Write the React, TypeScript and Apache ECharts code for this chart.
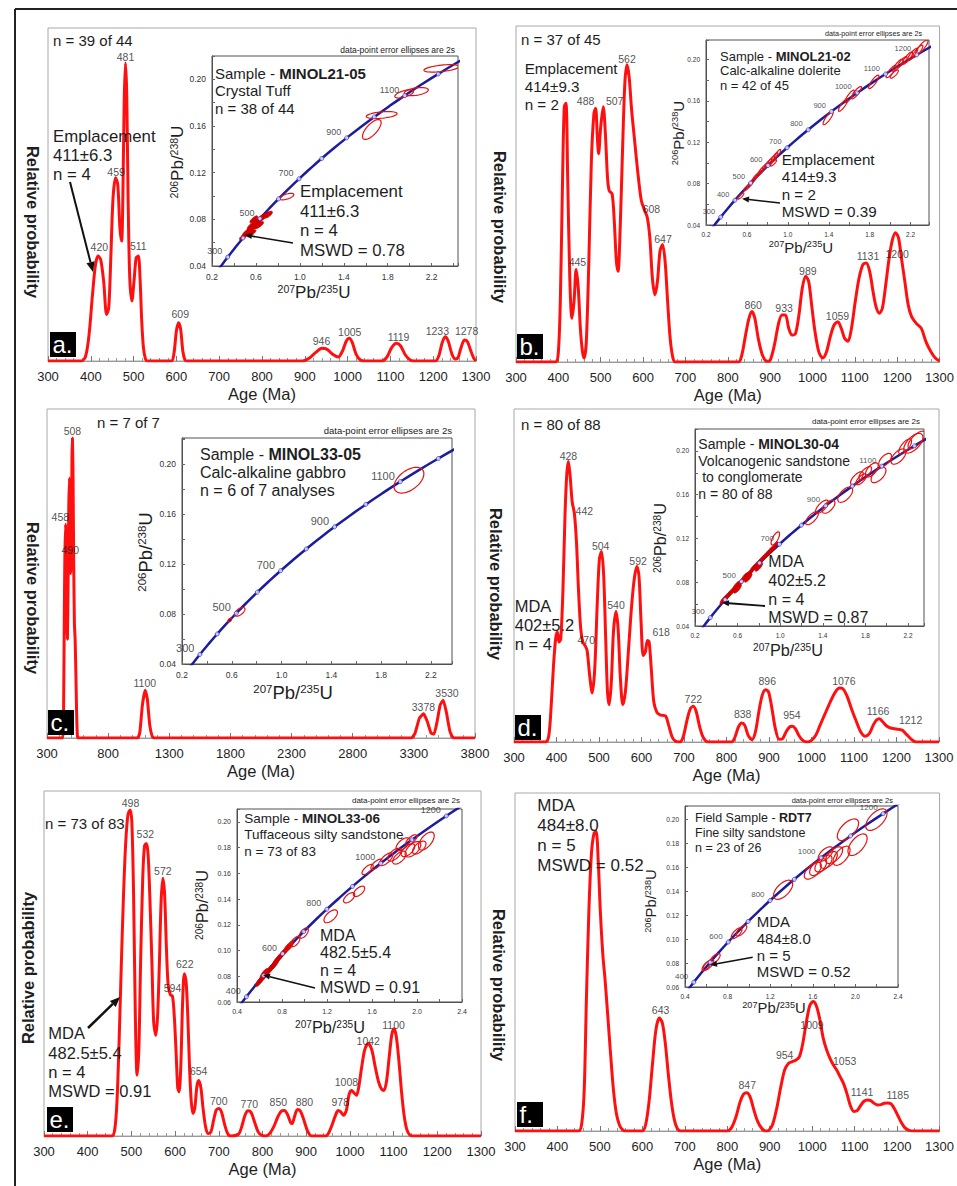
import React, { useEffect, useRef } from "react";
import * as echarts from "echarts";

const FONT = '"Liberation Sans", Arial, Helvetica, sans-serif';
const W = 957;
const H = 1186;
const RED = "#ff1010";
const BLUE = "#1c1c9e";
const INK = "#1e1e1e";

// ---------- concordia reference values ----------
const concAges = [200, 250, 300, 350, 400, 450, 500, 550, 600, 650, 700, 750, 800, 850, 900, 950, 1000, 1050, 1100, 1150, 1200, 1250, 1300];
const concPb207U235 = [0.2177, 0.2792, 0.3437, 0.4116, 0.4828, 0.5576, 0.6363, 0.7189, 0.8056, 0.8968, 0.9925, 1.0931, 1.1987, 1.3097, 1.4263, 1.5488, 1.6774, 1.8126, 1.9545, 2.1036, 2.2603, 2.4249, 2.5977];
const concPb206U238 = [0.03151, 0.03954, 0.04764, 0.05579, 0.06402, 0.0723, 0.08065, 0.08906, 0.09754, 0.10609, 0.1147, 0.12338, 0.13213, 0.14094, 0.14983, 0.15879, 0.16781, 0.1769, 0.18606, 0.1953, 0.2046, 0.214, 0.22343];

// ---------- probability density curves [age Ma, relative probability] ----------
const curveA: number[][] = [[300,0],[378,0],[388,0.015],[396,0.08],[404,0.2],[411,0.29],[417,0.315],[423,0.305],[430,0.24],[437,0.14],[442,0.16],[447,0.32],[452,0.49],[458,0.55],[463,0.53],[468,0.4],[472,0.36],[475,0.5],[478,0.78],[481,0.895],[484,0.8],[487,0.5],[491,0.25],[496,0.18],[501,0.24],[506,0.31],[511,0.315],[515,0.25],[519,0.12],[523,0.04],[528,0.005],[533,0],[588,0],[594,0.02],[600,0.09],[605,0.115],[610,0.095],[615,0.03],[620,0.003],[625,0],[895,0],[910,0.008],[925,0.025],[940,0.038],[952,0.035],[965,0.02],[978,0.012],[988,0.03],[997,0.06],[1004,0.068],[1011,0.055],[1020,0.02],[1030,0.003],[1040,0],[1080,0],[1092,0.012],[1103,0.04],[1114,0.053],[1124,0.045],[1135,0.018],[1147,0.002],[1155,0],[1205,0],[1213,0.015],[1221,0.055],[1228,0.073],[1235,0.06],[1244,0.02],[1252,0.006],[1258,0.01],[1265,0.04],[1273,0.063],[1280,0.058],[1288,0.03],[1295,0.008],[1300,0]];
const curveB: number[][] = [[300,0],[393,0],[400,0.03],[405,0.2],[410,0.55],[414,0.76],[418,0.77],[422,0.55],[427,0.25],[432,0.13],[437,0.18],[442,0.275],[447,0.22],[452,0.1],[457,0.03],[461,0.012],[466,0.06],[472,0.3],[478,0.6],[484,0.74],[488,0.755],[492,0.67],[495,0.62],[500,0.7],[506,0.76],[511,0.68],[516,0.55],[520,0.51],[527,0.5],[532,0.42],[537,0.3],[541,0.27],[546,0.4],[552,0.65],[557,0.83],[562,0.885],[567,0.85],[573,0.75],[580,0.66],[588,0.56],[596,0.48],[604,0.45],[610,0.43],[616,0.37],[622,0.25],[628,0.2],[634,0.24],[640,0.33],[646,0.35],[652,0.3],[658,0.18],[664,0.07],[670,0.015],[676,0],[825,0],[833,0.02],[842,0.08],[850,0.13],[857,0.15],[864,0.13],[872,0.07],[882,0.02],[893,0.002],[900,0.005],[910,0.05],[920,0.115],[928,0.14],[936,0.14],[944,0.1],[952,0.08],[960,0.085],[968,0.14],[976,0.22],[984,0.255],[991,0.24],[998,0.17],[1006,0.09],[1015,0.03],[1024,0.012],[1033,0.03],[1042,0.075],[1051,0.11],[1060,0.12],[1068,0.1],[1076,0.07],[1084,0.062],[1092,0.1],[1101,0.18],[1110,0.25],[1119,0.29],[1127,0.295],[1135,0.27],[1143,0.21],[1150,0.165],[1158,0.145],[1165,0.16],[1172,0.22],[1180,0.3],[1188,0.36],[1196,0.385],[1203,0.37],[1210,0.31],[1218,0.24],[1226,0.17],[1234,0.135],[1245,0.115],[1257,0.1],[1268,0.06],[1280,0.03],[1290,0.012],[1300,0.003]];
const curveC: number[][] = [[300,0],[428,0],[436,0.1],[441,0.35],[446,0.55],[452,0.65],[457,0.6],[462,0.35],[467,0.3],[472,0.45],[478,0.7],[484,0.79],[489,0.7],[494,0.5],[499,0.55],[504,0.85],[508,0.912],[513,0.8],[518,0.55],[524,0.35],[530,0.3],[536,0.2],[542,0.08],[548,0.01],[554,0],[1040,0],[1060,0.02],[1080,0.1],[1103,0.145],[1120,0.12],[1140,0.04],[1160,0.005],[1175,0],[3280,0],[3310,0.015],[3345,0.06],[3380,0.074],[3410,0.05],[3440,0.015],[3465,0.012],[3490,0.05],[3515,0.1],[3540,0.115],[3565,0.08],[3595,0.02],[3625,0],[3800,0]];
const curveD: number[][] = [[300,0],[374,0],[382,0.02],[388,0.12],[393,0.23],[398,0.31],[402,0.33],[406,0.3],[410,0.31],[415,0.45],[420,0.68],[424,0.8],[428,0.842],[432,0.8],[437,0.72],[442,0.687],[447,0.6],[452,0.45],[457,0.34],[462,0.3],[467,0.29],[472,0.275],[478,0.2],[484,0.147],[490,0.22],[496,0.42],[501,0.55],[506,0.572],[511,0.5],[516,0.3],[520,0.15],[524,0.112],[529,0.18],[534,0.33],[540,0.392],[545,0.34],[550,0.2],[556,0.112],[562,0.15],[568,0.25],[575,0.38],[582,0.48],[589,0.527],[594,0.5],[599,0.36],[604,0.26],[609,0.27],[614,0.305],[618,0.3],[623,0.22],[629,0.12],[636,0.09],[643,0.082],[650,0.08],[657,0.078],[664,0.05],[672,0.015],[680,0.002],[690,0],[698,0.015],[707,0.065],[715,0.1],[722,0.107],[729,0.09],[737,0.045],[746,0.012],[757,0],[812,0],[820,0.015],[828,0.045],[836,0.057],[843,0.05],[851,0.02],[860,0.007],[868,0.03],[876,0.09],[884,0.14],[892,0.157],[899,0.15],[907,0.1],[915,0.04],[924,0.008],[932,0.01],[940,0.03],[948,0.045],[955,0.047],[962,0.04],[971,0.018],[980,0.004],[990,0],[1000,0.005],[1010,0.02],[1020,0.05],[1032,0.085],[1044,0.12],[1056,0.15],[1066,0.162],[1074,0.16],[1083,0.14],[1094,0.1],[1106,0.06],[1116,0.03],[1126,0.017],[1136,0.025],[1145,0.05],[1153,0.066],[1160,0.07],[1168,0.06],[1177,0.048],[1186,0.042],[1195,0.04],[1205,0.038],[1214,0.035],[1224,0.022],[1235,0.008],[1246,0],[1300,0]];
const curveE: number[][] = [[300,0],[455,0],[462,0.02],[467,0.1],[472,0.28],[477,0.5],[482,0.7],[487,0.85],[492,0.93],[497,0.945],[501,0.91],[505,0.7],[509,0.35],[513,0.176],[517,0.25],[521,0.5],[526,0.75],[530,0.84],[534,0.848],[538,0.82],[542,0.7],[547,0.5],[551,0.33],[556,0.292],[560,0.35],[564,0.5],[568,0.68],[572,0.747],[576,0.7],[580,0.55],[584,0.44],[589,0.41],[594,0.405],[598,0.35],[602,0.25],[606,0.14],[609,0.128],[613,0.2],[617,0.38],[621,0.47],[625,0.45],[629,0.35],[633,0.2],[637,0.1],[641,0.065],[645,0.08],[650,0.145],[654,0.161],[659,0.14],[664,0.08],[670,0.025],[676,0.007],[682,0.012],[688,0.045],[694,0.075],[700,0.08],[706,0.07],[713,0.035],[720,0.008],[727,0],[745,0.005],[752,0.025],[760,0.06],[767,0.073],[774,0.068],[782,0.04],[790,0.012],[798,0.002],[806,0],[815,0.005],[825,0.025],[835,0.055],[843,0.072],[850,0.074],[857,0.063],[864,0.04],[868,0.036],[873,0.055],[880,0.077],[887,0.072],[895,0.045],[903,0.015],[912,0],[945,0],[952,0.01],[960,0.035],[967,0.06],[973,0.074],[979,0.07],[985,0.06],[992,0.075],[998,0.12],[1004,0.132],[1010,0.124],[1015,0.118],[1020,0.14],[1027,0.2],[1034,0.25],[1042,0.268],[1050,0.25],[1058,0.2],[1066,0.155],[1073,0.135],[1078,0.132],[1084,0.16],[1090,0.23],[1096,0.295],[1101,0.311],[1106,0.29],[1112,0.22],[1118,0.13],[1124,0.06],[1130,0.02],[1137,0.003],[1145,0],[1300,0]];
const curveF: number[][] = [[300,0],[450,0],[457,0.02],[463,0.12],[468,0.38],[474,0.65],[480,0.82],[486,0.88],[491,0.886],[496,0.8],[501,0.65],[507,0.52],[512,0.45],[518,0.35],[525,0.23],[532,0.12],[539,0.05],[546,0.018],[553,0.004],[560,0],[600,0],[608,0.02],[616,0.09],[624,0.2],[632,0.3],[640,0.334],[647,0.32],[654,0.26],[661,0.17],[668,0.09],[675,0.035],[682,0.008],[690,0],[800,0],[810,0.01],[820,0.04],[830,0.085],[838,0.108],[846,0.113],[854,0.1],[862,0.065],[871,0.03],[881,0.008],[890,0],[898,0.002],[907,0.02],[917,0.07],[926,0.13],[935,0.18],[944,0.2],[953,0.205],[962,0.21],[970,0.22],[978,0.26],[986,0.32],[994,0.37],[1002,0.383],[1010,0.37],[1018,0.33],[1026,0.275],[1034,0.24],[1042,0.215],[1050,0.195],[1058,0.18],[1066,0.16],[1074,0.14],[1082,0.11],[1090,0.075],[1098,0.058],[1106,0.06],[1114,0.075],[1122,0.088],[1130,0.092],[1138,0.09],[1146,0.082],[1154,0.077],[1162,0.078],[1170,0.082],[1178,0.083],[1186,0.08],[1194,0.065],[1202,0.045],[1210,0.025],[1218,0.01],[1228,0.002],[1240,0],[1300,0]];

// ---------- labelled peaks [age, relative probability] ----------
const peaksA: number[][] = [[420,0.322],[459,0.546],[481,0.892],[511,0.325],[609,0.12],[946,0.039],[1005,0.066],[1119,0.05],[1233,0.07],[1278,0.07]];
const peaksB: number[][] = [[445,0.276],[488,0.756],[507,0.756],[562,0.882],[608,0.435],[647,0.345],[860,0.149],[933,0.14],[989,0.251],[1059,0.116],[1131,0.296],[1200,0.301]];
const peaksC: number[][] = [[458,0.651],[490,0.55],[508,0.913],[1100,0.147],[3378,0.073],[3530,0.117]];
const peaksD: number[][] = [[428,0.839],[442,0.674],[470,0.286],[504,0.569],[540,0.389],[592,0.522],[618,0.309],[722,0.109],[838,0.064],[896,0.161],[954,0.059],[1076,0.161],[1166,0.071],[1212,0.046]];
const peaksE: number[][] = [[498,0.944],[532,0.855],[572,0.749],[594,0.41],[622,0.478],[654,0.167],[700,0.081],[770,0.072],[850,0.077],[880,0.077],[978,0.077],[1008,0.135],[1042,0.255],[1100,0.301]];
const peaksF: number[][] = [[643,0.336],[847,0.115],[954,0.204],[1009,0.293],[1053,0.186],[1141,0.096],[1185,0.086]];

// ---------- error ellipses [207Pb/235U, 206Pb/238U, 2s x, 2s y, rho] ----------
const ellA: number[][] = [[2.29,0.2094,0.16,0.0032,0.5],[1.95,0.1875,0.085,0.0035,0.6],[2.06,0.1895,0.11,0.0035,0.4],[1.745,0.1694,0.14,0.003,0.4],[1.655,0.157,0.085,0.0085,0.7],[0.88,0.0995,0.065,0.0028,0.6]];
const blobA: number[][] = [[0.49,0.0655,0.04,0.003,0.8],[0.52,0.069,0.045,0.0035,0.8],[0.55,0.071,0.05,0.0035,0.8],[0.57,0.075,0.05,0.004,0.8],[0.6,0.076,0.05,0.004,0.8],[0.62,0.079,0.05,0.004,0.8],[0.65,0.081,0.05,0.004,0.8],[0.68,0.083,0.05,0.003,0.8],[0.71,0.084,0.04,0.003,0.7],[0.56,0.068,0.04,0.003,0.8],[0.63,0.075,0.04,0.003,0.8],[0.58,0.08,0.035,0.003,0.8]];
const ellB: number[][] = [[1.394,0.1435,0.05,0.0065,0.85],[1.54,0.156,0.045,0.006,0.85],[1.605,0.1645,0.045,0.006,0.85],[1.67,0.168,0.05,0.006,0.85],[1.84,0.1785,0.05,0.0065,0.85],[2.01,0.1885,0.05,0.006,0.85],[2.075,0.1945,0.05,0.006,0.85],[2.12,0.198,0.045,0.005,0.85],[2.17,0.2015,0.05,0.006,0.85],[2.22,0.205,0.05,0.006,0.85],[2.27,0.208,0.05,0.006,0.85],[2.31,0.212,0.06,0.007,0.85],[2.04,0.186,0.04,0.004,0.8],[0.54,0.068,0.03,0.003,0.85],[0.6,0.076,0.03,0.003,0.85],[0.63,0.079,0.03,0.003,0.85],[0.66,0.083,0.03,0.003,0.85],[0.69,0.087,0.03,0.003,0.85],[0.72,0.09,0.03,0.003,0.85],[0.75,0.094,0.03,0.003,0.85],[0.78,0.097,0.03,0.003,0.85],[0.81,0.1,0.03,0.0035,0.85],[0.84,0.103,0.03,0.0035,0.85],[0.87,0.106,0.03,0.004,0.85],[0.9,0.109,0.03,0.004,0.85],[0.86,0.1,0.03,0.003,0.85]];
const ellC: number[][] = [[0.664,0.0818,0.042,0.0035,0.6],[0.584,0.0752,0.015,0.0015,0.5],[2.024,0.1872,0.12,0.0103,0.5]];
const ellD: number[][] = [[0.954,0.12,0.04,0.006,0.7],[1.298,0.1385,0.06,0.006,0.7],[1.392,0.149,0.06,0.006,0.7],[1.454,0.149,0.06,0.006,0.6],[1.61,0.16,0.07,0.007,0.6],[1.72,0.175,0.06,0.006,0.7],[1.798,0.1796,0.06,0.006,0.7],[1.86,0.1826,0.06,0.0065,0.6],[1.923,0.178,0.07,0.007,0.6],[1.985,0.1917,0.06,0.006,0.6],[2.11,0.1948,0.07,0.007,0.6],[2.173,0.2039,0.06,0.007,0.7],[2.25,0.207,0.09,0.009,0.6],[2.28,0.21,0.08,0.008,0.7],[1.76,0.174,0.05,0.005,0.7]];
const blobD: number[][] = [[0.47,0.064,0.035,0.004,0.8],[0.51,0.068,0.035,0.004,0.8],[0.55,0.072,0.035,0.004,0.8],[0.59,0.077,0.035,0.004,0.8],[0.63,0.08,0.035,0.004,0.8],[0.67,0.085,0.035,0.004,0.8],[0.71,0.088,0.035,0.004,0.8],[0.75,0.093,0.035,0.004,0.8],[0.79,0.097,0.035,0.004,0.8],[0.83,0.101,0.035,0.004,0.8],[0.87,0.105,0.035,0.004,0.8],[0.91,0.109,0.035,0.004,0.8],[0.95,0.113,0.03,0.004,0.8],[0.6,0.074,0.035,0.004,0.8],[0.7,0.084,0.035,0.004,0.8],[0.8,0.094,0.035,0.004,0.8]];
const ellE: number[][] = [[1.561,0.163,0.05,0.004,0.7],[1.64,0.167,0.05,0.004,0.7],[1.725,0.1709,0.06,0.005,0.7],[1.8,0.1745,0.06,0.005,0.6],[1.844,0.1722,0.06,0.005,0.6],[1.874,0.1826,0.06,0.005,0.6],[1.92,0.178,0.06,0.005,0.6],[1.964,0.1787,0.07,0.006,0.6],[2.02,0.18,0.06,0.005,0.6],[2.083,0.1851,0.07,0.007,0.6],[1.95,0.186,0.05,0.004,0.7],[1.485,0.146,0.05,0.004,0.6],[1.397,0.141,0.05,0.004,0.6],[1.233,0.1266,0.06,0.005,0.6],[0.994,0.1136,0.04,0.004,0.6],[0.919,0.107,0.04,0.004,0.6],[0.86,0.103,0.035,0.003,0.7]];
const blobE: number[][] = [[0.6,0.076,0.035,0.004,0.8],[0.63,0.079,0.035,0.004,0.8],[0.66,0.082,0.035,0.004,0.8],[0.69,0.085,0.035,0.004,0.8],[0.72,0.088,0.035,0.004,0.8],[0.75,0.092,0.035,0.004,0.8],[0.78,0.095,0.035,0.004,0.8],[0.81,0.098,0.035,0.004,0.8],[0.84,0.101,0.035,0.004,0.8],[0.87,0.104,0.035,0.004,0.8],[0.64,0.082,0.035,0.004,0.8],[0.74,0.09,0.035,0.004,0.8]];
const ellF: number[][] = [[1.321,0.1411,0.09,0.008,0.6],[1.6,0.157,0.08,0.007,0.6],[1.65,0.16,0.08,0.007,0.6],[1.7,0.163,0.08,0.007,0.6],[1.75,0.166,0.08,0.007,0.6],[1.8,0.17,0.08,0.007,0.6],[1.72,0.171,0.07,0.006,0.6],[1.87,0.1695,0.08,0.008,0.6],[1.93,0.1912,0.1,0.009,0.6],[2.02,0.1787,0.09,0.009,0.6],[2.197,0.1996,0.1,0.009,0.6],[0.885,0.1049,0.05,0.0045,0.7],[0.93,0.107,0.05,0.0045,0.7],[0.68,0.0835,0.05,0.0045,0.7],[0.62,0.0785,0.05,0.0045,0.7],[0.6,0.0775,0.04,0.004,0.7]];

const curves = [curveA, curveB, curveC, curveD, curveE, curveF];
const peaks = [peaksA, peaksB, peaksC, peaksD, peaksE, peaksF];
const ellipses = [ellA, ellB, ellC, ellD, ellE, ellF];
const blobs = [blobA, [], [], blobD, blobE, []];

// ---------- layout (pixels) ----------
const MAIN = [
  { left: 48, top: 28, right: 476, bottom: 361, xmax: 1300, step: 100 },
  { left: 516, top: 26, right: 940, bottom: 362, xmax: 1300, step: 100 },
  { left: 47, top: 409, right: 475, bottom: 738, xmax: 3800, step: 500 },
  { left: 514, top: 409, right: 939, bottom: 742, xmax: 1300, step: 100 },
  { left: 44, top: 791, right: 481, bottom: 1136, xmax: 1300, step: 100 },
  { left: 515, top: 793, right: 944, bottom: 1131, xmax: 1300, step: 100 },
];
const NUDGE: Record<number, number>[] = [
  { 946: -3, 1233: -10 },
  { 488: -10, 507: 11, 608: 5 },
  { 458: -6, 3530: 5 },
  { 442: 10, 618: 12, 1166: -4, 1212: 9 },
  { 850: -6, 880: 7, 1008: -7 },
  { 954: -8, 1009: -4, 1053: 10, 1141: -10, 1185: 7 },
];

const ODD = [300, 500, 700, 900, 1100];
const ALL = [300, 400, 500, 600, 700, 800, 900, 1000, 1100, 1200];
const EVEN = [400, 600, 800, 1000, 1200];
const INSET = [
  { left: 212, top: 56, right: 458, bottom: 266, xmin: 0.2, xmax: 2.44, ymin: 0.04, ymax: 0.22, xLab0: 0.2, yLab0: 0.04, yStep: 4, tick: 8.5, concFont: 9, ages: ODD },
  { left: 706, top: 40, right: 929, bottom: 225, xmin: 0.2, xmax: 2.38, ymin: 0.04, ymax: 0.219, xLab0: 0.2, yLab0: 0.04, yStep: 4, tick: 6.5, concFont: 7.5, ages: ALL },
  { left: 182, top: 438, right: 452, bottom: 664, xmin: 0.2, xmax: 2.37, ymin: 0.04, ymax: 0.221, xLab0: 0.2, yLab0: 0.04, yStep: 4, tick: 8.5, concFont: 11, ages: ODD },
  { left: 695, top: 429, right: 924, bottom: 626, xmin: 0.2, xmax: 2.35, ymin: 0.04, ymax: 0.22, xLab0: 0.2, yLab0: 0.04, yStep: 4, tick: 6.5, concFont: 8, ages: ODD },
  { left: 237, top: 809, right: 462, bottom: 1002, xmin: 0.4, xmax: 2.4, ymin: 0.06, ymax: 0.21, xLab0: 0.4, yLab0: 0.06, yStep: 2, tick: 7, concFont: 9, ages: EVEN },
  { left: 685, top: 806, right: 898, bottom: 987, xmin: 0.4, xmax: 2.4, ymin: 0.06, ymax: 0.211, xLab0: 0.4, yLab0: 0.06, yStep: 2, tick: 6.5, concFont: 8, ages: EVEN },
];

// ---------- helpers ----------
function textBlock(x: number, cy: number, lines: string[], size: number, lh: number, extra: any = {}) {
  return {
    type: "text", x, y: cy - lh / 2, z: 50, silent: true,
    style: { text: lines.join("\n"), fontSize: size, fontFamily: FONT, fill: INK, lineHeight: lh, align: "left", verticalAlign: "top", ...extra },
  };
}
function titleBlock(x: number, cy: number, prefix: string, bold: string, rest: string[], size: number, lh: number) {
  const tok = { fontSize: size, fontFamily: FONT, fill: INK, lineHeight: lh };
  const text = `{n|${prefix}}{b|${bold}}` + rest.map((r) => `\n{n|${r}}`).join("");
  return {
    type: "text", x, y: cy - lh / 2, z: 50, silent: true,
    style: { text, align: "left", verticalAlign: "top", rich: { n: tok, b: { ...tok, fontWeight: "bold" } } },
  };
}
function ratioLabel(x: number, y: number, top: string, bottom: string, F: number, rot: number) {
  const s = Math.round(F * 0.62 * 10) / 10;
  return {
    type: "text", x, y, rotation: rot, z: 50, silent: true,
    style: {
      text: `{s|${top}}{b|Pb/}{s|${bottom}}{b|U}`, align: "center", verticalAlign: "middle",
      rich: {
        s: { fontSize: s, fontFamily: FONT, fill: INK, verticalAlign: "top" },
        b: { fontSize: F, fontFamily: FONT, fill: INK, verticalAlign: "bottom" },
      },
    },
  };
}
function arrow(x1: number, y1: number, x2: number, y2: number, w: number, head: number) {
  const ang = Math.atan2(y2 - y1, x2 - x1);
  const bx = x2 - head * Math.cos(ang);
  const by = y2 - head * Math.sin(ang);
  const px = -Math.sin(ang) * head * 0.42;
  const py = Math.cos(ang) * head * 0.42;
  return [
    { type: "line", z: 50, silent: true, shape: { x1, y1, x2: bx, y2: by }, style: { stroke: "#111", lineWidth: w } },
    { type: "polygon", z: 50, silent: true, shape: { points: [[x2, y2], [bx + px, by + py], [bx - px, by - py]] }, style: { fill: "#111" } },
  ];
}
function boxLabel(x: number, y: number, t: string) {
  return [
    { type: "rect", z: 50, silent: true, shape: { x, y, width: 26, height: 25 }, style: { fill: "#000" } },
    { type: "text", z: 51, silent: true, x: x + 2.5, y: y + 12, style: { text: t, fontSize: 24, fontFamily: FONT, fill: "#fff", align: "left", verticalAlign: "middle" } },
  ];
}
function ellipseSeries(axis: number, data: number[][], filled: boolean) {
  return {
    type: "custom", xAxisIndex: axis, yAxisIndex: axis, clip: true, silent: true, z: 6,
    data, encode: { x: 0, y: 1 },
    renderItem: (_p: any, api: any) => {
      const cx = api.value(0), cy = api.value(1), sx = api.value(2), sy = api.value(3), rho = api.value(4);
      const k = Math.sqrt(1 - rho * rho);
      const pts: number[][] = [];
      for (let j = 0; j < 48; j++) {
        const t = (j / 48) * Math.PI * 2;
        pts.push(api.coord([cx + sx * Math.cos(t), cy + sy * (rho * Math.cos(t) + k * Math.sin(t))]));
      }
      return {
        type: "polygon", shape: { points: pts },
        style: filled ? { fill: "#d80000", stroke: "#c00000", lineWidth: 0.8 } : { fill: "none", stroke: "#e81010", lineWidth: 1.2 },
      };
    },
  };
}

function buildOption() {
  const grid: any[] = [];
  const xAxis: any[] = [];
  const yAxis: any[] = [];
  const series: any[] = [];
  const g: any[] = [];

  MAIN.forEach((m, i) => {
    grid.push({ left: m.left, top: m.top, width: m.right - m.left, height: m.bottom - m.top, show: true, borderColor: "#a8a8a8", borderWidth: 1, containLabel: false });
    xAxis.push({
      gridIndex: i, type: "value", min: 0, max: m.xmax - 300, interval: m.step,
      axisLine: { show: true, lineStyle: { color: "#999", width: 1 } },
      axisTick: { show: true, inside: true, length: 5, lineStyle: { color: "#777" } },
      minorTick: { show: true, splitNumber: 5, length: 3, lineStyle: { color: "#999" } },
      splitLine: { show: false },
      axisLabel: { fontSize: 13, color: INK, margin: 9, fontFamily: FONT, formatter: (v: number) => String(Math.round(v + 300)) },
      name: "Age (Ma)", nameLocation: "middle", nameGap: 24,
      nameTextStyle: { fontSize: 16.5, color: INK, fontFamily: FONT },
    });
    yAxis.push({ gridIndex: i, type: "value", min: 0, max: 1, show: false });
    series.push({
      type: "line", xAxisIndex: i, yAxisIndex: i, data: curves[i].map(([a, h]) => [a - 300, h]),
      showSymbol: false, symbol: "none", smooth: i === 2 ? 0.15 : 0.3, silent: true, z: 3,
      lineStyle: { color: RED, width: 3 },
    });
    series.push({
      type: "scatter", xAxisIndex: i, yAxisIndex: i, symbolSize: 1, silent: true, z: 4,
      itemStyle: { color: "rgba(0,0,0,0)" },
      data: peaks[i].map(([a, h]) => ({ name: String(a), value: [a - 300, h], label: { offset: [NUDGE[i][a] || 0, 0] } })),
      label: { show: true, position: "top", distance: 1, formatter: "{b}", fontSize: 10.5, color: INK, fontFamily: FONT },
    });
  });

  INSET.forEach((c, i) => {
    const ax = 6 + i;
    grid.push({ left: c.left, top: c.top, width: c.right - c.left, height: c.bottom - c.top, show: true, borderColor: "#505050", borderWidth: 1, backgroundColor: "#fff", containLabel: false });
    const k0 = Math.round(c.xLab0 * 10);
    const m0 = Math.round(c.yLab0 * 100);
    xAxis.push({
      gridIndex: ax, type: "value", min: c.xmin, max: c.xmax, interval: 0.2,
      axisLine: { show: true, lineStyle: { color: "#505050" } },
      axisTick: { show: true, inside: true, length: 3, lineStyle: { color: "#666" } },
      splitLine: { show: false },
      axisLabel: {
        fontSize: c.tick, color: "#333", margin: 6, fontFamily: FONT,
        formatter: (v: number) => {
          const k = Math.round(v * 10);
          return Math.abs(v * 10 - k) < 1e-4 && k >= k0 && (k - k0) % 4 === 0 ? (k / 10).toFixed(1) : "";
        },
      },
    });
    yAxis.push({
      gridIndex: ax, type: "value", min: c.ymin, max: c.ymax, interval: 0.02,
      axisLine: { show: true, lineStyle: { color: "#505050" } },
      axisTick: { show: true, inside: true, length: 3, lineStyle: { color: "#666" } },
      splitLine: { show: false },
      axisLabel: {
        fontSize: c.tick, color: "#333", margin: 6, fontFamily: FONT,
        formatter: (v: number) => {
          const m = Math.round(v * 100);
          return Math.abs(v * 100 - m) < 1e-4 && m >= m0 && m <= 20 && (m - m0) % c.yStep === 0 ? (m / 100).toFixed(2) : "";
        },
      },
    });
    series.push({
      type: "line", xAxisIndex: ax, yAxisIndex: ax, data: concPb207U235.map((x, k) => [x, concPb206U238[k]]),
      showSymbol: false, symbol: "none", smooth: true, silent: true, z: 5, clip: true,
      lineStyle: { color: BLUE, width: 2.5 },
    });
    if (blobs[i].length) series.push(ellipseSeries(ax, blobs[i], true));
    series.push(ellipseSeries(ax, ellipses[i], false));
    series.push({
      type: "scatter", xAxisIndex: ax, yAxisIndex: ax, symbolSize: 4, silent: true, z: 7, clip: true,
      itemStyle: { color: "#f4f4ff", borderColor: "#3838d0", borderWidth: 1 },
      data: concAges
        .map((a, k) => ({ a, k }))
        .filter(({ a }) => a % 100 === 0 && a >= 300)
        .map(({ a, k }) => ({ name: String(a), value: [concPb207U235[k], concPb206U238[k]], label: { show: c.ages.includes(a) } })),
      label: { position: "left", distance: 3, offset: [0, -6], formatter: "{b}", fontSize: c.concFont, color: INK, fontFamily: FONT },
    });
  });

  // outer frame
  g.push({ type: "line", z: 50, silent: true, shape: { x1: 15, y1: 9, x2: 957, y2: 9 }, style: { stroke: "#222", lineWidth: 2 } });
  g.push({ type: "line", z: 50, silent: true, shape: { x1: 15, y1: 9, x2: 15, y2: 1186 }, style: { stroke: "#222", lineWidth: 2 } });

  // y-axis titles
  const rp = [[33, 222, -1], [500, 227, -1], [33, 598, -1], [496, 584, -1], [28, 968, 1], [499, 985, -1]];
  rp.forEach(([x, y, d]) =>
    g.push({ type: "text", x, y, rotation: (d * Math.PI) / 2, z: 50, silent: true, style: { text: "Relative probability", fontSize: 16.5, fontWeight: "bold", fontFamily: FONT, fill: INK, align: "center", verticalAlign: "middle" } })
  );

  // panel letters
  g.push(...boxLabel(50, 332, "a."), ...boxLabel(517, 334, "b."), ...boxLabel(48, 710, "c."), ...boxLabel(515, 715, "d."), ...boxLabel(47, 1107, "e."), ...boxLabel(517, 1102, "f."));

  // main panel texts
  g.push(textBlock(53, 40, ["n = 39 of 44"], 15, 18));
  g.push(textBlock(521, 39, ["n = 37 of 45"], 15, 18));
  g.push(textBlock(97, 422, ["n = 7 of 7"], 15, 18));
  g.push(textBlock(521, 424, ["n = 80 of 88"], 15, 18));
  g.push(textBlock(45, 823, ["n = 73 of 83"], 15, 18));
  g.push(textBlock(53, 136, ["Emplacement", "411±6.3", "n = 4"], 16.8, 19));
  g.push(textBlock(524.7, 68.3, ["Emplacement", "414±9.3", "n = 2"], 15.2, 18));
  g.push(textBlock(514.7, 605.7, ["MDA", "402±5.2", "n = 4"], 16.5, 19));
  g.push(textBlock(48.3, 1033.3, ["MDA", "482.5±5.4", "n = 4", "MSWD = 0.91"], 16.5, 19.3));
  g.push(textBlock(537.3, 805, ["MDA", "484±8.0", "n = 5", "MSWD = 0.52"], 17, 20));
  g.push(...arrow(70, 182, 93, 272, 2, 10));
  g.push(...arrow(88, 1028, 120, 997, 2.5, 10));

  // inset texts
  const cap = "data-point error ellipses are 2s";
  const caps = [[455, 50, 8.5], [922, 33, 7.2], [452, 430, 9.5], [920, 421, 8], [460, 800.7, 8], [893, 800, 7.5]];
  caps.forEach(([x, y, s]) => g.push({ type: "text", x, y, z: 50, silent: true, style: { text: cap, fontSize: s, fontFamily: FONT, fill: "#222", align: "right", verticalAlign: "middle" } }));

  g.push(titleBlock(215, 73.3, "Sample - ", "MINOL21-05", ["Crystal Tuff", "n = 38 of 44"], 15, 17.5));
  g.push(titleBlock(720, 56.3, "Sample - ", "MINOL21-02", ["Calc-alkaline dolerite", "n = 42 of 45"], 13, 14.5));
  g.push(titleBlock(200, 454.3, "Sample - ", "MINOL33-05", ["Calc-alkaline gabbro", "n = 6 of 7 analyses"], 16, 18.3));
  g.push(titleBlock(698.3, 444.3, "Sample - ", "MINOL30-04", ["Volcanogenic sandstone", " to conglomerate", "n = 80 of 88"], 14, 16.5));
  g.push(titleBlock(244.3, 818.3, "Sample - ", "MINOL33-06", ["Tuffaceous silty sandstone", "n = 73 of 83"], 13.5, 16.7));
  g.push(titleBlock(695, 818.3, "Field Sample - ", "RDT7", ["Fine silty sandstone", "n = 23 of 26"], 12.5, 15));

  g.push(textBlock(300, 191.7, ["Emplacement", "411±6.3", "n = 4", "MSWD = 0.78"], 16.8, 19.5));
  g.push(textBlock(781.7, 159.7, ["Emplacement", "414±9.3", "n = 2", "MSWD = 0.39"], 15.2, 17.3));
  g.push(textBlock(768.3, 561.7, ["MDA", "402±5.2", "n = 4", "MSWD = 0.87"], 16, 18.7));
  g.push(textBlock(320, 935, ["MDA", "482.5±5.4", "n = 4", "MSWD = 0.91"], 16, 17.5));
  g.push(textBlock(756.7, 921.7, ["MDA", "484±8.0", "n = 5", "MSWD = 0.52"], 15, 16.7));
  g.push(...arrow(293, 243, 245, 235, 1.6, 7));
  g.push(...arrow(780, 203, 742, 198.7, 1.6, 7));
  g.push(...arrow(765, 606, 722, 602.7, 1.8, 7));
  g.push(...arrow(315, 988, 263, 975, 1.6, 7));
  g.push(...arrow(752.7, 957.3, 710, 965, 1.6, 7));

  // inset axis titles
  const names = [
    [314, 292, 177, 162, 17],
    [801, 247, 678, 133, 15],
    [293, 692, 145, 552, 18.5],
    [788, 650, 660, 538, 16.3],
    [330, 1027, 202, 905, 16.3],
    [774, 1008, 651, 901, 14.8],
  ];
  names.forEach(([xx, xy, yx, yy, F]) => {
    g.push(ratioLabel(xx, xy, "207", "235", F, 0));
    g.push(ratioLabel(yx, yy, "206", "238", F, Math.PI / 2));
  });

  return {
    animation: false,
    backgroundColor: "#fff",
    textStyle: { fontFamily: FONT },
    grid, xAxis, yAxis, series,
    graphic: { elements: g },
  };
}

export default function App() {
  const ref = useRef<HTMLDivElement>(null);
  useEffect(() => {
    const chart = echarts.init(ref.current as HTMLDivElement, null, { renderer: "svg", width: W, height: H });
    chart.setOption(buildOption() as any);
    return () => chart.dispose();
  }, []);
  return <div ref={ref} style={{ position: "absolute", left: 0, top: 0, width: W, height: H, background: "#fff" }} />;
}
